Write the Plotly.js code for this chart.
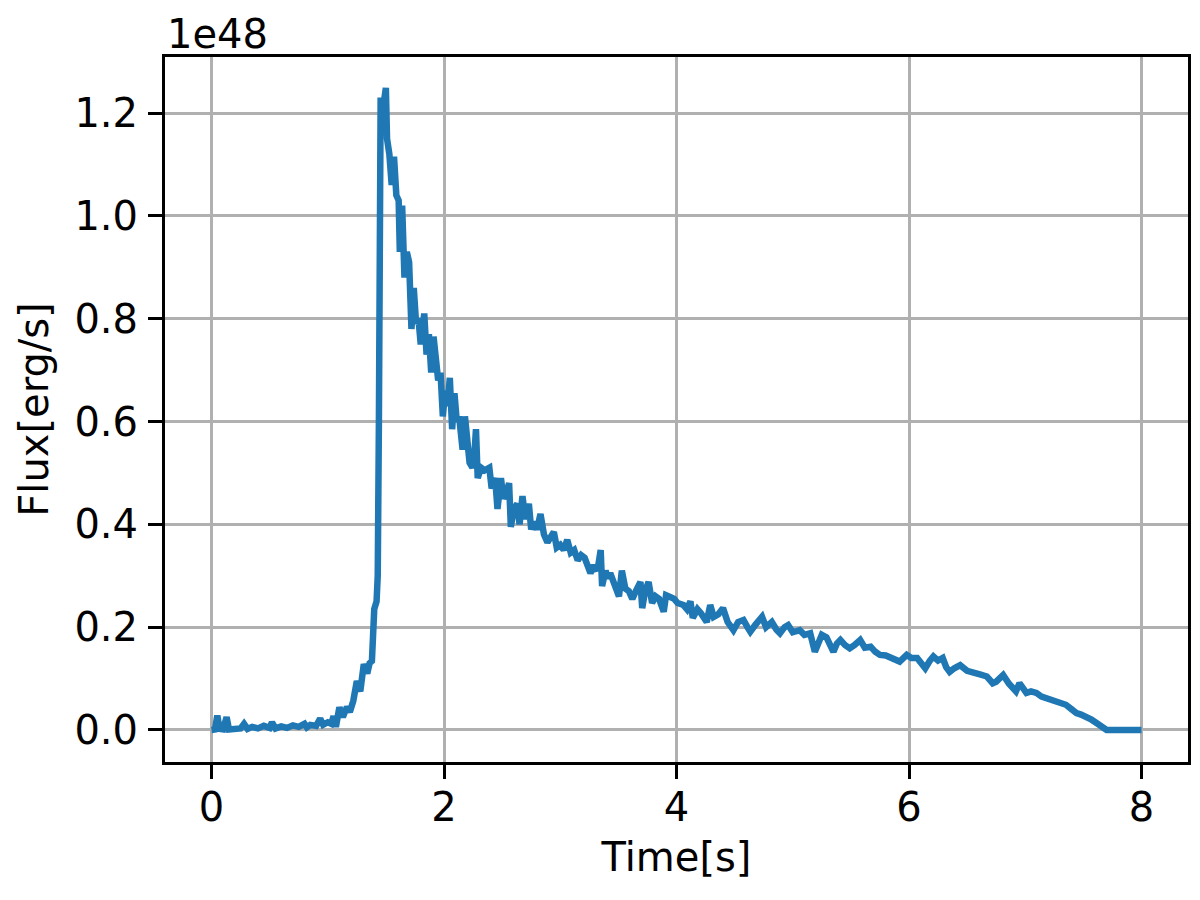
<!DOCTYPE html>
<html>
<head>
<meta charset="utf-8">
<script src="https://cdn.plot.ly/plotly-3.0.1.min.js"></script>
<style>html,body{margin:0;padding:0;background:#fff;}#chart{width:1200px;height:900px;}</style>
</head>
<body>
<div id="chart"></div>
<script>
// Time [s]
const time = [
0, 0.03, 0.05, 0.07, 0.1, 0.13, 0.15, 0.2, 0.25, 0.28, 0.31, 0.35, 0.4, 0.45, 0.5, 0.52, 0.55, 0.6, 0.65, 0.7, 0.75, 0.8, 0.82, 0.85, 0.9, 0.935, 0.96, 1.0,
1.03, 1.05, 1.07, 1.1, 1.13, 1.165, 1.19, 1.22, 1.25, 1.28, 1.31, 1.34, 1.36, 1.38, 1.39, 1.40, 1.42, 1.43, 1.44, 1.45, 1.455,
1.47, 1.49, 1.50, 1.51, 1.53, 1.55, 1.57, 1.59, 1.61, 1.62, 1.64, 1.66, 1.68, 1.70, 1.72, 1.74, 1.76, 1.78, 1.80, 1.83, 1.85, 1.87, 1.89, 1.91, 1.93, 1.95, 1.97, 1.99,
2.01, 2.03, 2.05, 2.07, 2.09, 2.11, 2.13, 2.16, 2.18, 2.20, 2.22, 2.245, 2.26, 2.275, 2.29, 2.32, 2.35, 2.39, 2.41, 2.44, 2.46, 2.49, 2.51, 2.54, 2.56, 2.575,
2.60, 2.63, 2.65, 2.675, 2.70, 2.73, 2.75, 2.77, 2.80, 2.83, 2.86, 2.89, 2.92, 2.945, 2.97, 3.0, 3.03, 3.06, 3.09, 3.12, 3.15, 3.18, 3.21, 3.24, 3.26, 3.29,
3.32, 3.348, 3.36, 3.39, 3.41, 3.43, 3.46, 3.48, 3.505, 3.53, 3.56, 3.59, 3.62, 3.65, 3.69, 3.705, 3.73, 3.76, 3.79, 3.82, 3.85, 3.89, 3.91, 3.95, 3.98,
4.01, 4.06, 4.09, 4.12, 4.14, 4.18, 4.21, 4.26, 4.29, 4.32, 4.36, 4.40, 4.44, 4.49, 4.53, 4.576, 4.61, 4.635, 4.68, 4.736, 4.77, 4.82, 4.86, 4.89, 4.93, 4.96,
5.0, 5.06, 5.10, 5.15, 5.19, 5.21, 5.25, 5.29, 5.32, 5.35, 5.38, 5.41, 5.45, 5.49, 5.53, 5.58, 5.62, 5.67, 5.71, 5.75, 5.80, 5.84, 5.88, 5.92, 5.98,
6.02, 6.07, 6.1, 6.14, 6.18, 6.21, 6.25, 6.29, 6.32, 6.35, 6.39, 6.44, 6.5, 6.55, 6.61, 6.67, 6.72, 6.75, 6.81, 6.86, 6.92, 6.95,
7.01, 7.05, 7.096, 7.14, 7.18, 7.23, 7.27, 7.31, 7.35, 7.40, 7.44, 7.48, 7.525, 7.57, 7.61, 7.66, 7.70, 7.8, 7.9, 8.0
];
// Flux [1e48 erg/s]
const flux = [
0, 0.001, 0.028, 0.002, 0.001, 0.025, 0.001, 0.002, 0.003, 0.012, 0.002, 0.006, 0.003, 0.008, 0.004, 0.015, 0.003, 0.007, 0.004, 0.009, 0.006, 0.012, 0.005, 0.01, 0.008, 0.022, 0.01, 0.015,
0.012, 0.027, 0.006, 0.044, 0.025, 0.045, 0.035, 0.057, 0.095, 0.075, 0.128, 0.11, 0.13, 0.134, 0.2, 0.235, 0.25, 0.3, 0.6, 1.0, 1.23,
1.2, 1.24, 1.249, 1.15, 1.12, 1.06, 1.115, 1.04, 1.03, 0.93, 1.02, 0.88, 0.93, 0.91, 0.78, 0.86, 0.79, 0.8, 0.75, 0.81, 0.73, 0.77, 0.695, 0.765, 0.705, 0.68, 0.695, 0.61,
0.66, 0.63, 0.685, 0.585, 0.655, 0.6, 0.61, 0.545, 0.61, 0.56, 0.52, 0.51, 0.53, 0.585, 0.49, 0.51, 0.505, 0.51, 0.47, 0.49, 0.43, 0.49, 0.45, 0.465, 0.48, 0.395,
0.43, 0.44, 0.4, 0.455, 0.41, 0.44, 0.39, 0.405, 0.39, 0.42, 0.38, 0.365, 0.375, 0.385, 0.355, 0.36, 0.35, 0.37, 0.345, 0.35, 0.33, 0.34, 0.335, 0.32, 0.305, 0.32,
0.31, 0.35, 0.28, 0.31, 0.295, 0.305, 0.29, 0.275, 0.26, 0.31, 0.275, 0.27, 0.255, 0.27, 0.288, 0.237, 0.27, 0.288, 0.247, 0.26, 0.255, 0.23, 0.262, 0.258, 0.255,
0.247, 0.243, 0.235, 0.25, 0.218, 0.235, 0.227, 0.21, 0.243, 0.22, 0.225, 0.237, 0.21, 0.194, 0.21, 0.214, 0.2, 0.191, 0.205, 0.22, 0.2, 0.21, 0.195, 0.188, 0.2, 0.204,
0.19, 0.194, 0.185, 0.188, 0.152, 0.162, 0.185, 0.18, 0.165, 0.152, 0.168, 0.175, 0.165, 0.159, 0.165, 0.175, 0.16, 0.162, 0.152, 0.146, 0.145, 0.14, 0.138, 0.133, 0.146,
0.14, 0.14, 0.13, 0.12, 0.135, 0.143, 0.135, 0.14, 0.122, 0.113, 0.12, 0.126, 0.115, 0.113, 0.108, 0.104, 0.091, 0.094, 0.107, 0.09, 0.075, 0.091,
0.072, 0.075, 0.072, 0.065, 0.062, 0.058, 0.055, 0.052, 0.049, 0.04, 0.033, 0.03, 0.026, 0.02, 0.014, 0.006, 0, 0, 0, 0
];
const xTicks = [0, 2, 4, 6, 8];
const yTicks = [0.0, 0.2, 0.4, 0.6, 0.8, 1.0, 1.2];

function mkFont() { return {family: "DejaVu Sans", size: 40, color: "#000"}; }
function axisCommon() {
  return {
    showline: true, linecolor: "#000", linewidth: 3, mirror: true,
    ticks: "outside", ticklen: 14, tickwidth: 3, tickcolor: "#000",
    showgrid: true, gridcolor: "#b0b0b0", gridwidth: 3,
    zeroline: false, tickfont: mkFont()
  };
}

Plotly.newPlot("chart", [{
  x: time, y: flux, type: "scatter", mode: "lines",
  line: {color: "#1f77b4", width: 6.5},
  hoverinfo: "skip"
}], {
  width: 1200, height: 900,
  margin: {l: 165, r: 12, t: 57, b: 138},
  paper_bgcolor: "#fff", plot_bgcolor: "#fff",
  showlegend: false,
  font: mkFont(),
  xaxis: Object.assign(axisCommon(), {
    range: [-0.4, 8.4], tickvals: xTicks, ticktext: xTicks.map(String),
    ticklabelstandoff: -6,
    title: {text: "Time[s]", font: mkFont(), standoff: 14}
  }),
  yaxis: Object.assign(axisCommon(), {
    range: [-0.0623, 1.309], tickvals: yTicks, ticktext: yTicks.map(v => v.toFixed(1)),
    ticklabelstandoff: 2,
    title: {text: "Flux[erg/s]", font: mkFont(), standoff: 14}
  }),
  annotations: [{
    text: "1e48", xref: "paper", yref: "paper", x: 0, y: 1,
    xanchor: "left", yanchor: "bottom", showarrow: false, font: mkFont(), yshift: -2
  }]
}, {displayModeBar: false, staticPlot: true});
</script>
</body>
</html>
